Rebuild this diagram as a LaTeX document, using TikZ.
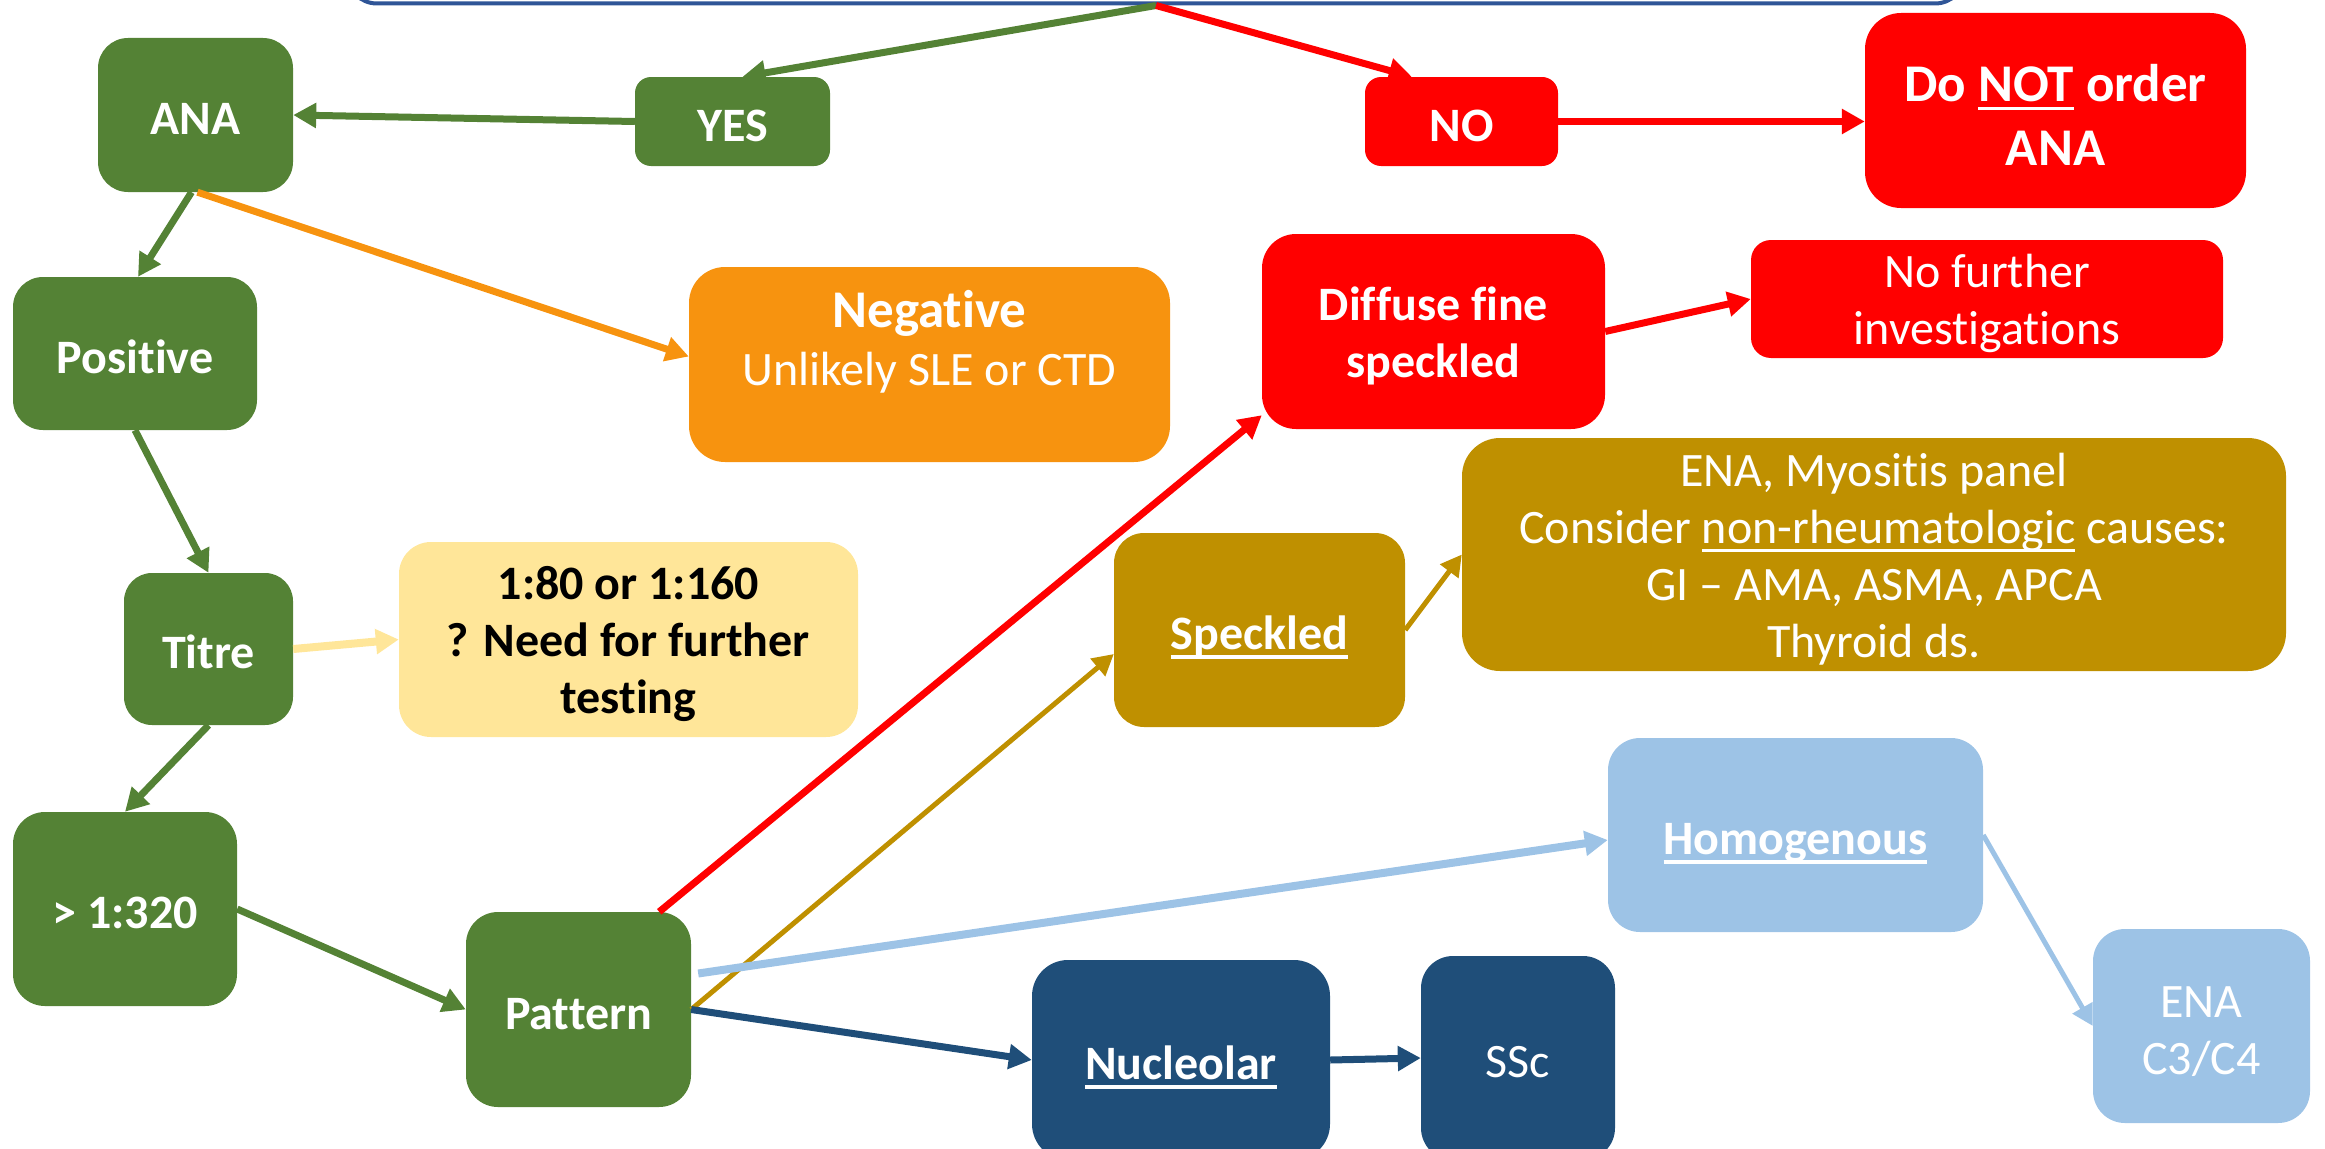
\documentclass[tikz,border=0pt]{standalone}
\usepackage{fontspec}
\setmainfont{Carlito}[Ligatures=NoCommon]
\usetikzlibrary{arrows.meta,calc}
\definecolor{cgreen}{HTML}{548235}
\definecolor{corange}{HTML}{F7930F}
\definecolor{cred}{HTML}{FF0000}
\definecolor{cyellow}{HTML}{FFE699}
\definecolor{cgold}{HTML}{BF9000}
\definecolor{clblue}{HTML}{9DC3E6}
\definecolor{cdblue}{HTML}{1F4E79}
\definecolor{ctopblue}{HTML}{2F5597}
\newcommand{\fntB}{\fontsize{48}{57}\selectfont\bfseries}
\newcommand{\fntR}{\fontsize{48}{57}\selectfont}
\newcommand{\fntBB}{\fontsize{53}{64}\selectfont\bfseries}
\newcommand{\tstrut}{\rule{0pt}{42pt}}
\newcommand{\tstrutB}{\rule{0pt}{45pt}}
\newsavebox{\ulxbox}
\newcommand{\ulx}[1]{\sbox{\ulxbox}{#1}\rlap{\rule[-9pt]{\wd\ulxbox}{3.5pt}}\usebox{\ulxbox}}
\tikzset{
  box/.style={rectangle, inner sep=0pt, align=center, text=white},
  one/.style={text height=39pt, text depth=0pt},
  arr/.style={line width=7pt, -{Triangle[length=23pt,width=24pt]}},
  thinarr/.style={line width=5pt, -{Triangle[length=21pt,width=22pt]}}
}
\begin{document}
\begin{tikzpicture}[x=1pt,y=-1pt]
\useasboundingbox (0,0) rectangle (2325,1148);
\clip (0,0) rectangle (2325,1148);

% top (cut off) box
\node[box, fill=white, draw=ctopblue, line width=4pt, minimum width=1618pt, minimum height=103pt, rounded corners=30pt] (top) at (1156,-48) {};

% nodes
\node[box, one, fill=cgreen, minimum width=195pt, minimum height=154pt, rounded corners=30pt, font=\fntB] (ana) at (195.5,115) {ANA};
\node[box, one, fill=cgreen, minimum width=195pt, minimum height=89pt, rounded corners=16pt, font=\fntB] (yes) at (732.5,121.5) {YES};
\node[box, one, fill=cred, minimum width=193pt, minimum height=89pt, rounded corners=16pt, font=\fntB] (no) at (1461.5,121.5) {NO};
\node[box, fill=cred, minimum width=381pt, minimum height=195pt, rounded corners=36pt, font=\fntBB] (donot) at (2055.5,110.5) {\tstrutB Do \ulx{NOT} order\\ANA};
\node[box, one, fill=cgreen, minimum width=244pt, minimum height=153pt, rounded corners=30pt, font=\fntB] (pos) at (135,353.5) {Positive};
\node[box, fill=corange, minimum width=481pt, minimum height=195pt, rounded corners=36pt] (neg) at (929.5,364.5) {};
\node[anchor=base, text=white, font=\fntBB, inner sep=0pt] (negt) at (929.5,327) {Negative};
\node[anchor=base, text=white, font=\fntR, inner sep=0pt] (negs) at (929.5,385) {Unlikely SLE or CTD};
\node[box, one, fill=cgreen, minimum width=169pt, minimum height=152pt, rounded corners=28pt, font=\fntB] (titre) at (208.5,649) {Titre};
\node[box, fill=cyellow, text=black, minimum width=459pt, minimum height=195pt, rounded corners=32pt, font=\fntB] (q) at (628.5,639.5) {\tstrut 1:80 or 1:160\\? Need for further\\testing};
\node[box, one, fill=cgreen, minimum width=224pt, minimum height=194pt, rounded corners=32pt, font=\fntB] (big) at (125,909) {> 1:320};
\node[box, one, fill=cgreen, minimum width=225pt, minimum height=195pt, rounded corners=32pt, font=\fntB] (pattern) at (578.5,1009.5) {Pattern};
\node[box, fill=cred, minimum width=343pt, minimum height=195pt, rounded corners=34pt, font=\fntB] (diffuse) at (1433.5,331.5) {\tstrut Diffuse fine\\speckled};
\node[box, fill=cred, minimum width=472pt, minimum height=118pt, rounded corners=20pt, font=\fntR] (nf) at (1987,299) {\tstrut No further\\investigations};
\node[box, one, fill=cgold, minimum width=291pt, minimum height=194pt, rounded corners=30pt, font=\fntB] (speckled) at (1259.5,630) {\ulx{Speckled}};
\node[box, fill=cgold, minimum width=824pt, minimum height=233pt, rounded corners=38pt, font=\fntR] (ena) at (1874,554.5) {\tstrut ENA, Myositis panel\\Consider \ulx{non-rheumatologic} causes:\\GI – AMA, ASMA, APCA\\Thyroid ds.};
\node[box, one, fill=clblue, minimum width=375pt, minimum height=194pt, rounded corners=32pt, font=\fntB] (homog) at (1795.5,835) {\ulx{Homogenous}};
\node[box, fill=clblue, minimum width=217pt, minimum height=194pt, rounded corners=32pt, font=\fntR] (c34) at (2201.5,1026) {\tstrut ENA\\C3/C4};
\node[box, one, fill=cdblue, minimum width=298pt, minimum height=200pt, rounded corners=36pt, font=\fntB] (nuc) at (1181,1060) {\ulx{Nucleolar}};
\node[box, one, fill=cdblue, minimum width=194pt, minimum height=204pt, rounded corners=32pt, font=\fntR] (ssc) at (1518,1058) {SSc};

% connectors
\draw[arr, cgreen] (top.south) -- ($(yes.north)+(10,0)$);
\draw[arr, cred] (top.south) -- ($(no.north west)+(47,0)$);
\draw[arr, cred] (no.east) -- (no.east -| donot.west);
\draw[arr, cgreen] (yes.west) -- (ana.east);
\draw[arr, cgreen] ($(ana.south)+(-4,0)$) -- ($(pos.north)+(3,0)$);
\draw[arr, corange] ($(ana.south)+(2,0)$) -- ($(neg.west)+(0,-8)$);
\draw[arr, cgreen] (pos.south) -- (titre.north);
\draw[arr, line width=8pt, cyellow] (titre.east) -- (q.west);
\draw[arr, cgreen] (titre.south) -- (big.north);
\draw[arr, cgreen] (big.east) -- (pattern.west);
\draw[arr, cred] ($(pattern.north east)+(-32,0)$) -- ($(diffuse.south west)+(0,-14)$);
\draw[thinarr, cgold] (pattern.east) -- ($(speckled.west)+(0,24)$);
\draw[arr, line width=8pt, clblue] ($(pattern.east)+(7,-36)$) -- ($(homog.west)+(0,5)$);
\draw[arr, cdblue] (pattern.east) -- (nuc.west);
\draw[arr, cdblue] (nuc.east) -- (ssc.west);
\draw[thinarr, cgold] (speckled.east) -- (ena.west);
\draw[arr, cred] (diffuse.east) -- (nf.west);
\draw[thinarr, clblue] (homog.east) -- (c34.west);
\end{tikzpicture}
\end{document}
